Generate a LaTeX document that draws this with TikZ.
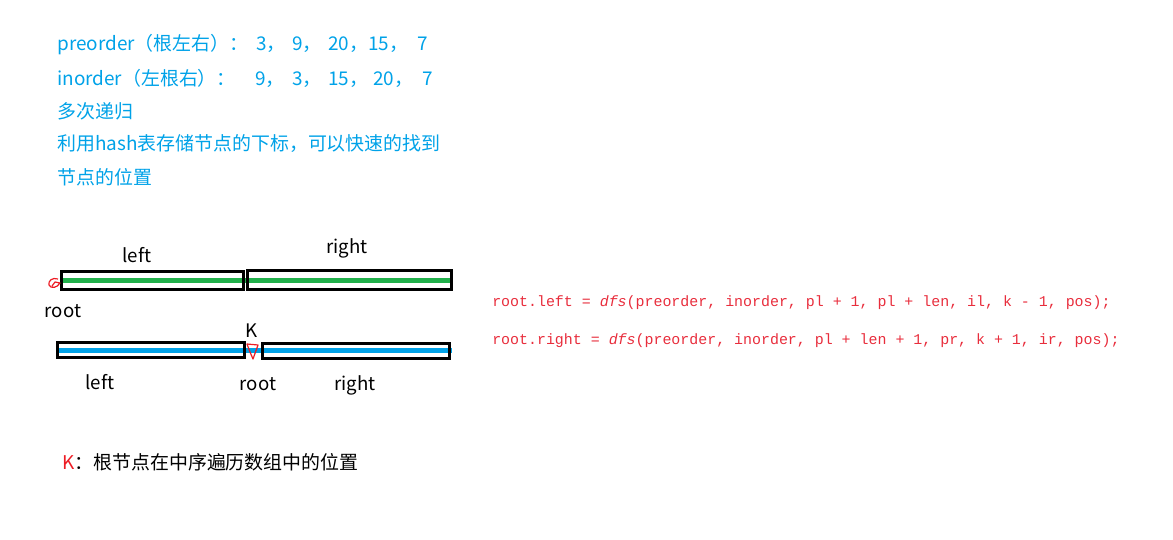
\documentclass[tikz,border=0pt]{standalone}
\usepackage{fontspec}
\setmainfont{Noto Sans CJK SC}
\newfontfamily\codefont{Liberation Mono}
\definecolor{noteblue}{RGB}{0,162,232}
\definecolor{barblue}{RGB}{0,162,232}
\definecolor{bargreen}{RGB}{34,177,76}
\definecolor{codered}{RGB}{232,45,60}
\definecolor{markred}{RGB}{237,28,36}
% one slot of a number list, width in pt
\newcommand{\numslot}[2]{\makebox[#1][l]{#2}}

\begin{document}
\begin{tikzpicture}[x=0.75pt, y=-0.75pt,
  note/.style={anchor=west, inner sep=0pt, text=noteblue, font=\fontsize{14.2}{17}\selectfont},
  lbl/.style={inner sep=0pt, font=\fontsize{14}{17}\selectfont},
  code/.style={anchor=west, inner sep=0pt, text=codered, font=\codefont\fontsize{11.2}{13}\selectfont},
  seg/.style={draw=black, line width=2.25pt},
  fillline/.style={line width=3.75pt},
  scribble/.style={draw=markred, line width=0.9pt, line join=round}]

\useasboundingbox (0,0) rectangle (1173,539);

% notes at the top
\node[note] (pre)  at (57,45)  {\numslot{149.25pt}{preorder（根左右）：}\numslot{27pt}{3，}\numslot{27pt}{9，}\numslot{30pt}{20，}\numslot{36.75pt}{15，}7};
\node[note] (ino)  at (57,78)  {\numslot{148.5pt}{inorder（左根右）：}\numslot{27.75pt}{9，}\numslot{27pt}{3，}\numslot{33.75pt}{15，}\numslot{36.75pt}{20，}7};
\node[note] (rec)  at (57,111) {多次递归};
\node[note] (hash) at (57,144) {利用hash表存储节点的下标，可以快速的找到};
\node[note] (pos)  at (57,177) {节点的位置};

% preorder array: root | left | right
\draw[bargreen, fillline] (61,280) -- (452,280);
\draw[seg] (61,271) rectangle (243,289);
\draw[seg] (247,270) rectangle (451,289);
\draw[scribble] (58,279) .. controls (52,277) and (48,281) .. (49,285)
  .. controls (51,289) and (57,288) .. (60,283) -- (55,282) -- (52,286);
\node[lbl] (preleft)  at (137,255) {left};
\node[lbl] (preright) at (347,248) {right};
\node[lbl] (preroot)  at (63,311)  {root};

% inorder array: left | root (k) | right
\draw[barblue, fillline] (58,350) -- (452,350);
\draw[seg] (57,342) rectangle (244,357);
\draw[seg] (262,343) rectangle (449,358);
\draw[scribble] (247,344) -- (258,345) -- (253,359) -- (250,352) -- cycle;
\node[lbl] (kmark)    at (252,331) {K};
\node[lbl] (inleft)   at (100,382) {left};
\node[lbl] (inroot)   at (258,384) {root};
\node[lbl] (inright)  at (355,385) {right};

% recursive calls
\node[code] (callleft)  at (492,303) {root.left = {\itshape dfs}(preorder, inorder, pl + 1, pl + len, il, k - 1, pos);};
\node[code] (callright) at (492,341) {root.right = {\itshape dfs}(preorder, inorder, pl + len + 1, pr, k + 1, ir, pos);};

% legend
\node[anchor=west, inner sep=0pt, font=\fontsize{14.2}{17}\selectfont] (klegend) at (62,462)
  {\textcolor{markred}{K}：根节点在中序遍历数组中的位置};

\end{tikzpicture}
\end{document}
